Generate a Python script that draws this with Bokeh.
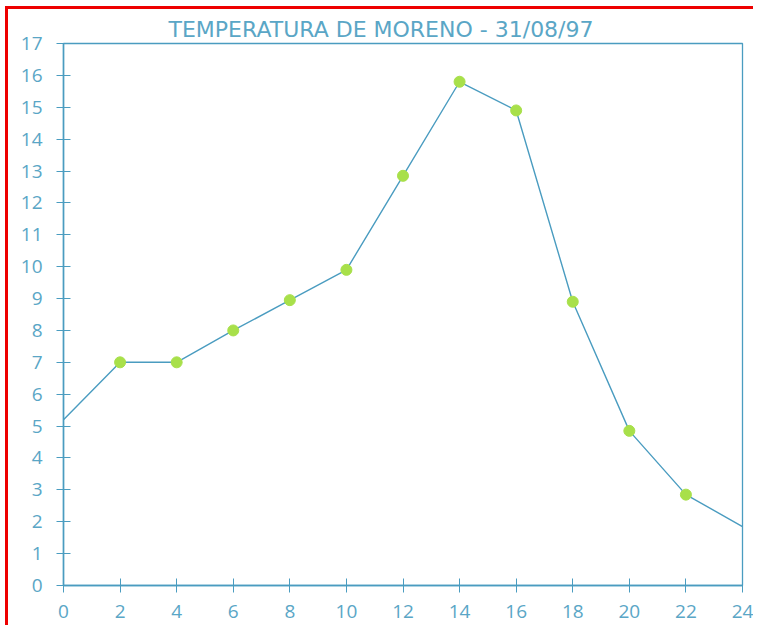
from bokeh.plotting import figure
from bokeh.models import Range1d, FixedTicker
from bokeh.embed import file_html
from bokeh.resources import INLINE

hours = [0, 2, 4, 6, 8, 10, 12, 14, 16, 18, 20, 22, 24]
temps = [5.2, 7.0, 7.0, 8.0, 8.95, 9.9, 12.85, 15.8, 14.9, 8.9, 4.85, 2.85, 1.85]
marker_hours = [2, 4, 6, 8, 10, 12, 14, 16, 18, 20, 22]
marker_temps = [7.0, 7.0, 8.0, 8.95, 9.9, 12.85, 15.8, 14.9, 8.9, 4.85, 2.85]
x_ticks = list(range(0, 25, 2))
y_ticks = list(range(0, 18))
title_text = "TEMPERATURA DE MORENO - 31/08/97"

LINE = "#4a9cc0"
TEXT = "#5aa6c6"
DOT = "#a8e04a"

p = figure(width=748, height=619, output_backend="svg", toolbar_location=None,
           x_range=Range1d(0, 24), y_range=Range1d(0, 17),
           min_border_left=55, min_border_right=14, min_border_top=34, min_border_bottom=43)
p.styles = {"border-left": "3px solid #ee0000", "border-top": "3px solid #ee0000",
            "margin-left": "5px", "margin-top": "6px"}
p.title.text = title_text
p.title.align = "left"
p.title.offset = 105
p.title.text_color = TEXT
p.title.text_font = "DejaVu Sans"
p.title.text_font_style = "normal"
p.title.text_font_size = "22px"
p.title.standoff = 4
p.grid.visible = False
p.outline_line_color = LINE
p.outline_line_width = 1.3
p.background_fill_color = "white"
p.border_fill_color = "white"

for ax in (p.xaxis[0], p.yaxis[0]):
    ax.axis_line_color = LINE
    ax.axis_line_width = 1.5
    ax.major_tick_line_color = LINE
    ax.major_tick_in = 7
    ax.major_tick_out = 7
    ax.minor_tick_line_color = None
    ax.major_label_text_color = TEXT
    ax.major_label_text_font = "Open Sans"
    ax.major_label_text_font_size = "19px"
p.xaxis.ticker = FixedTicker(ticks=x_ticks)
p.yaxis.ticker = FixedTicker(ticks=y_ticks)
p.xaxis.major_label_standoff = 12
p.yaxis.major_label_standoff = 14

p.line(hours, temps, line_color=LINE, line_width=1.4)
p.scatter(marker_hours, marker_temps, size=11, fill_color=DOT, line_color=DOT)

open("out.html", "w").write(file_html(p, INLINE))
